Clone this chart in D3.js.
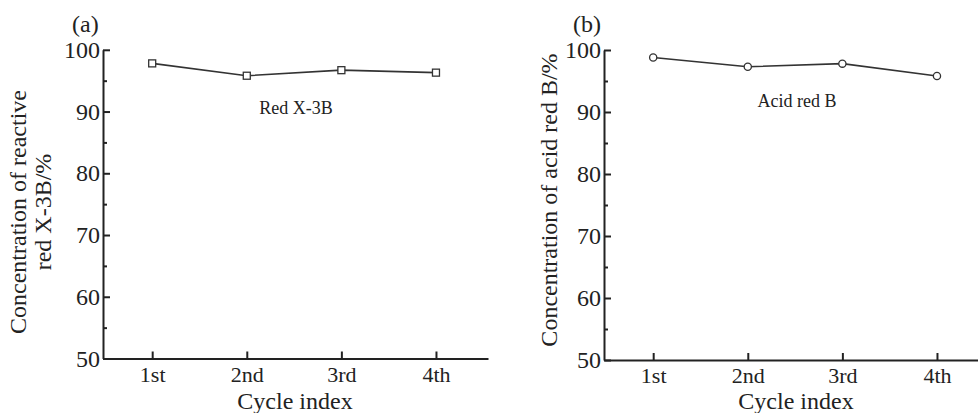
<!DOCTYPE html>
<html>
<head>
<meta charset="utf-8">
<script src="https://cdn.jsdelivr.net/npm/d3@7"></script>
<style>
  body { margin: 0; background: #fff; }
  text { font-family: "Liberation Serif", "DejaVu Serif", serif; fill: #222; }
</style>
</head>
<body>
<svg id="chart" width="978" height="413"></svg>
<script>
// ---data---
var cycles = ["1st", "2nd", "3rd", "4th"]
var redX3B = [97.8, 95.8, 96.7, 96.3]
var acidRedB = [98.8, 97.3, 97.8, 95.8]
var majorTicks = [50, 60, 70, 80, 90, 100]
var minorTicks = [55, 65, 75, 85, 95]

var svg = d3.select("#chart")
var ink = "#222"

//---one panel---
function drawPanel(opt)
{
    var g = svg.append("g")
    var x = d3.scaleLinear().domain([0.48, 4.55]).range([opt.left, opt.left + 385])
    var y = d3.scaleLinear().domain([50, 100]).range([opt.bottom, opt.top])

    //---y axis, ticks point inside---
    var yAx = g.append("g").attr("transform", "translate(" + opt.left + ",0)")
        .call(d3.axisLeft(y).tickValues(majorTicks).tickSize(-7).tickSizeOuter(0).tickPadding(3))
    g.append("g").attr("transform", "translate(" + opt.left + ",0)")
        .call(d3.axisLeft(y).tickValues(minorTicks).tickSize(-4).tickFormat(""))
        .select(".domain").remove()

    //---x axis---
    var xAx = g.append("g").attr("transform", "translate(0," + opt.bottom + ")")
        .call(d3.axisBottom(x).tickValues([1, 2, 3, 4]).tickSize(-7).tickSizeOuter(0)
            .tickFormat(function(d){ return cycles[d - 1] }))

    g.selectAll(".domain, .tick line").attr("stroke", ink).attr("stroke-width", 2)
    yAx.selectAll(".tick text").attr("font-size", 24).attr("font-family", "Liberation Serif").attr("fill", ink)
    xAx.selectAll(".tick text").attr("font-size", 22).attr("font-family", "Liberation Serif").attr("fill", ink)
        .attr("y", 23).attr("dy", 0)

    //---series line + markers---
    var line = d3.line().x(function(d, i){ return x(i + 1) }).y(function(d){ return y(d) })
    g.append("path").datum(opt.values).attr("d", line)
        .attr("fill", "none").attr("stroke", "#333").attr("stroke-width", 1.6)

    if (opt.marker == "square")
    {
        g.selectAll(".mk").data(opt.values).enter().append("rect")
            .attr("x", function(d, i){ return x(i + 1) - 3.5 })
            .attr("y", function(d){ return y(d) - 3.5 })
            .attr("width", 7).attr("height", 7)
            .attr("fill", "#fff").attr("stroke", "#333").attr("stroke-width", 1.3)
    }
    else
    {
        g.selectAll(".mk").data(opt.values).enter().append("circle")
            .attr("cx", function(d, i){ return x(i + 1) })
            .attr("cy", function(d){ return y(d) })
            .attr("r", 3.6)
            .attr("fill", "#fff").attr("stroke", "#333").attr("stroke-width", 1.3)
    }

    //---texts---
    g.append("text").attr("x", opt.left - 31).attr("y", 32).attr("font-size", 24).text(opt.tag)
    g.append("text").attr("x", opt.left + 193).attr("y", opt.top + opt.noteDy)
        .attr("text-anchor", "middle").attr("font-size", 18).text(opt.note)
    g.append("text").attr("x", opt.left + 192).attr("y", 409)
        .attr("text-anchor", "middle").attr("font-size", 24).text("Cycle index")

    var yt = g.append("text").attr("text-anchor", "middle").attr("font-size", opt.titleSize)
        .attr("transform", "translate(" + opt.titleX + "," + opt.titleY + ") rotate(-90)")
    opt.title.forEach(function(s, i){
        yt.append("tspan").attr("x", 0).attr("dy", i == 0 ? 0 : 25).text(s)
    })
}

drawPanel({ left: 103, top: 49.8, bottom: 358.5, values: redX3B, marker: "square",
    tag: "(a)", note: "Red X-3B", noteDy: 64,
    title: ["Concentration of reactive", "red X-3B/%"], titleX: 26, titleY: 212, titleSize: 24 })

drawPanel({ left: 604, top: 50, bottom: 360, values: acidRedB, marker: "circle",
    tag: "(b)", note: "Acid red B", noteDy: 57,
    title: ["Concentration of acid red B/%"], titleX: 557, titleY: 200, titleSize: 24 })
</script>
</body>
</html>
